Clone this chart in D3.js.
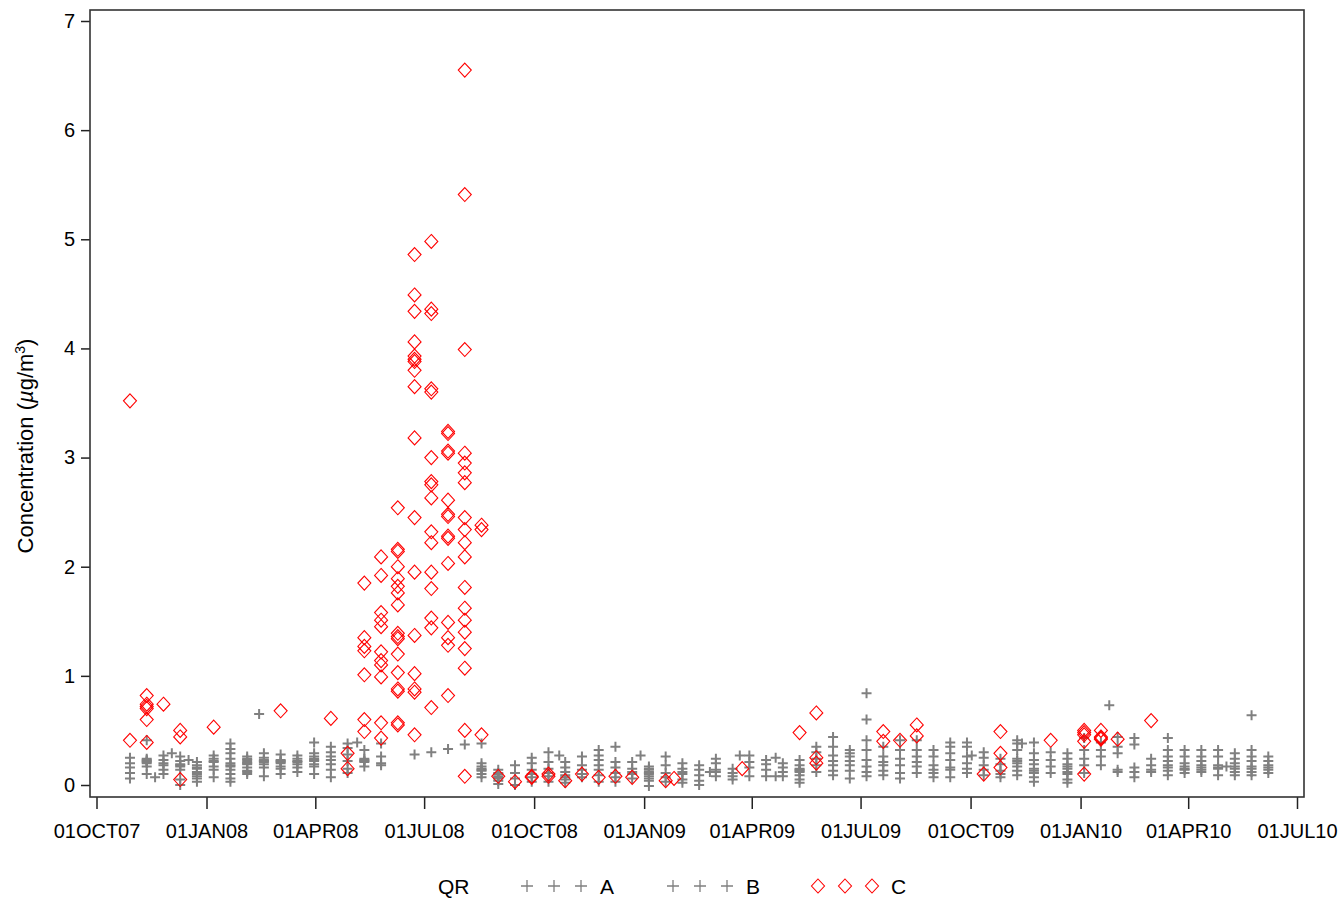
<!DOCTYPE html>
<html>
<head>
<meta charset="utf-8">
<script src="https://cdn.jsdelivr.net/npm/d3@7"></script>
<style>
  body { margin: 0; background: #fff; }
  text { font-family: "Liberation Sans", Arial, sans-serif; fill: #000; }
</style>
</head>
<body>
<script>
// sampling dates (every second week)
var sampleDates = ["2007-10-29","2007-11-12","2007-11-26","2007-12-10","2007-12-24",
  "2008-01-07","2008-01-21","2008-02-04","2008-02-18","2008-03-03","2008-03-17","2008-03-31",
  "2008-04-14","2008-04-28","2008-05-12","2008-05-26","2008-06-09","2008-06-23","2008-07-07",
  "2008-07-21","2008-08-04","2008-08-18","2008-09-01","2008-09-15","2008-09-29","2008-10-13",
  "2008-10-27","2008-11-10","2008-11-24","2008-12-08","2008-12-22","2009-01-05","2009-01-19",
  "2009-02-02","2009-02-16","2009-03-02","2009-03-16","2009-03-30","2009-04-13","2009-04-27",
  "2009-05-11","2009-05-25","2009-06-08","2009-06-22","2009-07-06","2009-07-20","2009-08-03",
  "2009-08-17","2009-08-31","2009-09-14","2009-09-28","2009-10-12","2009-10-26","2009-11-09",
  "2009-11-23","2009-12-07","2009-12-21","2010-01-04","2010-01-18","2010-02-01","2010-02-15",
  "2010-03-01","2010-03-15","2010-03-29","2010-04-12","2010-04-26","2010-05-10","2010-05-24",
  "2010-06-07"]

// QR = A, one list of values per sampling date
var qrA = [
  [0.25,0.20,0.16,0.11,0.06],
  [0.41,0.24,0.23,0.22,0.21,0.20,0.17,0.10],
  [0.27,0.23,0.20,0.18,0.14,0.10],
  [0.26,0.22,0.19,0.18,0.17,0.14,0.05,0.00],
  [0.21,0.18,0.16,0.15,0.12,0.10,0.08,0.06,0.03],
  [0.27,0.24,0.22,0.21,0.17,0.14,0.07],
  [0.38,0.33,0.29,0.24,0.20,0.18,0.17,0.14,0.10,0.06,0.03],
  [0.26,0.24,0.23,0.21,0.20,0.19,0.16,0.13,0.12,0.10],
  [0.29,0.25,0.23,0.22,0.21,0.19,0.16,0.08],
  [0.28,0.23,0.22,0.21,0.20,0.17,0.15,0.10],
  [0.27,0.24,0.22,0.21,0.19,0.16,0.12],
  [0.39,0.29,0.26,0.24,0.23,0.22,0.19,0.17,0.10],
  [0.35,0.30,0.26,0.23,0.19,0.14,0.07],
  [0.38,0.34,0.28,0.22,0.15,0.11],
  [0.32,0.24,0.23,0.22,0.21,0.17],
  [0.38,0.26,0.20,0.18],
  [],
  [0.28],
  [0.30],
  [0.33],
  [0.37],
  [0.38,0.20,0.17,0.15,0.14,0.13,0.10,0.07],
  [0.14,0.11,0.10,0.08,0.07,0.06,0.04,0.01],
  [0.18,0.11,0.06,0.00],
  [0.25,0.20,0.14,0.10,0.07,0.03],
  [0.30,0.21,0.15,0.11,0.08,0.03],
  [0.21,0.16,0.12,0.09,0.07,0.05,0.02],
  [0.26,0.18,0.14,0.10,0.07],
  [0.32,0.27,0.23,0.18,0.14,0.09,0.03],
  [0.35,0.21,0.16,0.11,0.07,0.03],
  [0.21,0.15,0.12,0.10,0.06],
  [0.17,0.15,0.14,0.12,0.11,0.10,0.08,0.06,0.04,-0.01],
  [0.26,0.18,0.11,0.07,0.03],
  [0.20,0.15,0.12,0.10,0.05,0.02],
  [0.18,0.14,0.09,0.04,0.00],
  [0.24,0.20,0.14,0.12,0.08],
  [0.15,0.11,0.08,0.05],
  [0.27,0.21,0.16,0.08],
  [0.23,0.19,0.14,0.08],
  [0.20,0.16,0.12,0.08],
  [0.23,0.18,0.15,0.14,0.13,0.12,0.09,0.05,0.02],
  [0.35,0.30,0.24,0.18,0.12],
  [0.44,0.35,0.27,0.22,0.18,0.13,0.09],
  [0.32,0.29,0.26,0.22,0.18,0.13,0.06],
  [0.84,0.60,0.41,0.32,0.23,0.17,0.12,0.08],
  [0.35,0.26,0.21,0.18,0.13,0.09],
  [0.41,0.32,0.24,0.18,0.11,0.06],
  [0.41,0.32,0.26,0.21,0.17,0.11],
  [0.32,0.26,0.18,0.14,0.11,0.07],
  [0.39,0.35,0.29,0.23,0.16,0.14,0.07],
  [0.39,0.35,0.26,0.20,0.15,0.11],
  [0.30,0.25,0.18,0.14,0.09],
  [0.24,0.19,0.13,0.10,0.07],
  [0.41,0.38,0.32,0.24,0.22,0.20,0.17,0.13,0.09],
  [0.39,0.29,0.23,0.19,0.15,0.13,0.11,0.07,0.03],
  [0.30,0.23,0.17,0.11],
  [0.29,0.24,0.19,0.17,0.15,0.12,0.10,0.05,0.02],
  [0.43,0.32,0.24,0.18,0.11],
  [0.39,0.32,0.26,0.18],
  [0.44,0.35,0.29,0.14,0.12],
  [0.43,0.37,0.16,0.12,0.07],
  [0.24,0.18,0.14,0.12],
  [0.43,0.32,0.26,0.22,0.18,0.16,0.13,0.09],
  [0.32,0.26,0.20,0.17,0.15,0.14,0.11],
  [0.32,0.26,0.22,0.18,0.16,0.14,0.12],
  [0.32,0.26,0.18,0.16,0.15,0.09],
  [0.29,0.24,0.20,0.17,0.15,0.12,0.09],
  [0.64,0.32,0.26,0.22,0.17,0.15,0.12,0.09],
  [0.26,0.22,0.18,0.16,0.14,0.11]
]

// QR = B, off-schedule samples
var bDates  = ["2007-11-19","2007-12-03","2007-12-17","2008-02-14","2008-05-06","2008-10-22",
  "2008-12-29","2009-02-25","2009-03-22","2009-04-21","2009-04-21","2009-10-02","2009-11-13",
  "2010-01-25","2010-05-03"]
var bValues = [0.07,0.29,0.23,0.65,0.39,0.27,0.27,0.12,0.27,0.25,0.08,0.27,0.38,0.73,0.17]

// QR = C
var cDates = ["2007-10-29","2007-11-12","2007-11-26","2007-12-10","2008-01-07","2008-03-03",
  "2008-04-14","2008-04-28","2008-05-12","2008-05-26","2008-06-09","2008-06-23","2008-07-07",
  "2008-07-21","2008-08-04","2008-08-18","2008-09-01","2008-09-15","2008-09-29","2008-10-13",
  "2008-10-27","2008-11-10","2008-11-24","2008-12-08","2008-12-22","2009-01-19","2009-01-26",
  "2009-03-24","2009-05-11","2009-05-25","2009-07-20","2009-08-03","2009-08-17","2009-10-12",
  "2009-10-26","2009-12-07","2010-01-04","2010-01-18","2010-02-01","2010-03-01"]
var cValues = [
  [3.52,0.41],
  [0.82,0.74,0.72,0.70,0.60,0.39],
  [0.74],
  [0.50,0.44,0.05],
  [0.53],
  [0.68],
  [0.61],
  [0.29,0.15],
  [1.85,1.35,1.27,1.23,1.01,0.60,0.49],
  [2.09,1.92,1.58,1.51,1.45,1.22,1.14,1.10,0.99,0.57,0.43],
  [2.54,2.16,2.14,2.00,1.89,1.82,1.76,1.65,1.39,1.36,1.34,1.20,1.03,0.88,0.86,0.57,0.55],
  [4.86,4.49,4.34,4.06,3.93,3.90,3.88,3.80,3.65,3.18,2.45,1.95,1.37,1.02,0.88,0.85,0.46],
  [4.98,4.36,4.32,3.63,3.60,3.00,2.78,2.75,2.63,2.32,2.22,1.95,1.80,1.53,1.44,0.71],
  [3.24,3.22,3.06,3.04,2.61,2.48,2.46,2.28,2.26,2.03,1.49,1.35,1.28,0.82],
  [6.55,5.41,3.99,3.04,2.95,2.86,2.77,2.45,2.34,2.22,2.09,1.81,1.62,1.51,1.40,1.25,1.07,0.50,0.08],
  [2.38,2.34,0.46],
  [0.08],
  [0.03],
  [0.08,0.07],
  [0.10,0.08],
  [0.04],
  [0.10],
  [0.07],
  [0.08],
  [0.07],
  [0.04],
  [0.06],
  [0.15],
  [0.48],
  [0.66,0.25,0.20],
  [0.49,0.40],
  [0.41],
  [0.55,0.45],
  [0.10],
  [0.49,0.29,0.16],
  [0.41],
  [0.50,0.48,0.46,0.40,0.10],
  [0.50,0.44,0.43,0.42],
  [0.42],
  [0.59]
]

var xTicks = ["2007-10-01","2008-01-01","2008-04-01","2008-07-01","2008-10-01","2009-01-01",
  "2009-04-01","2009-07-01","2009-10-01","2010-01-01","2010-04-01","2010-07-01"]
var yTicks = [0,1,2,3,4,5,6,7]

var parse = d3.utcParse("%Y-%m-%d")
var fmt = d3.utcFormat("%d%b%y")

var W = 1341, H = 899
var frame = {left: 90, top: 10, right: 1304, bottom: 797}

var svg = d3.select("body").append("svg")
  .attr("width", W)
  .attr("height", H)

var x = d3.scaleUtc()
  .domain([parse("2007-10-01"), parse("2010-07-01")])
  .range([96.5, 1297])

var y = d3.scaleLinear()
  .domain([0, 7])
  .range([785, 21])

// flatten into points
var ptsA = []
qrA.forEach(function(vals, i){
  vals.forEach(function(v){ ptsA.push({d: parse(sampleDates[i]), v: v}) })
})
var ptsB = bDates.map(function(d, i){ return {d: parse(d), v: bValues[i]} })
var ptsC = []
cValues.forEach(function(vals, i){
  vals.forEach(function(v){ ptsC.push({d: parse(cDates[i]), v: v}) })
})

var plus = "M-5,0H5M0,-5V5"
var diamond = "M0,-7L6.5,0L0,7L-6.5,0Z"

// axes
var xAxis = d3.axisBottom(x)
  .tickValues(xTicks.map(parse))
  .tickFormat(function(d){ return fmt(d).toUpperCase() })
  .tickSize(12)
  .tickPadding(15)

var yAxis = d3.axisLeft(y)
  .tickValues(yTicks)
  .tickFormat(d3.format("d"))
  .tickSize(9)
  .tickPadding(6)

var gx = svg.append("g")
  .attr("transform", "translate(0," + frame.bottom + ")")
  .call(xAxis)
var gy = svg.append("g")
  .attr("transform", "translate(" + frame.left + ",0)")
  .call(yAxis)

svg.selectAll(".domain").remove()
svg.selectAll(".tick line").attr("stroke", "#222").attr("stroke-width", 1.5)
svg.selectAll(".tick text")
  .style("font-size", "20px")
  .style("font-family", "'Liberation Sans', Arial, sans-serif")
  .attr("fill", "#000")

svg.append("rect")
  .attr("x", frame.left)
  .attr("y", frame.top)
  .attr("width", frame.right - frame.left)
  .attr("height", frame.bottom - frame.top)
  .attr("fill", "none")
  .attr("stroke", "#333")
  .attr("stroke-width", 1.6)

// markers
var gPts = svg.append("g")
gPts.selectAll(".a").data(ptsA).enter().append("path")
  .attr("class", "a")
  .attr("d", plus)
  .attr("transform", function(d){ return "translate(" + x(d.d) + "," + y(d.v) + ")" })
  .attr("stroke", "#808080")
  .attr("stroke-width", 2)
gPts.selectAll(".b").data(ptsB).enter().append("path")
  .attr("class", "b")
  .attr("d", plus)
  .attr("transform", function(d){ return "translate(" + x(d.d) + "," + y(d.v) + ")" })
  .attr("stroke", "#808080")
  .attr("stroke-width", 2)
gPts.selectAll(".c").data(ptsC).enter().append("path")
  .attr("class", "c")
  .attr("d", diamond)
  .attr("transform", function(d){ return "translate(" + x(d.d) + "," + y(d.v) + ")" })
  .attr("fill", "none")
  .attr("stroke", "#ff0000")
  .attr("stroke-width", 1.1)

// y title
svg.append("text")
  .attr("transform", "translate(33,446) rotate(-90)")
  .attr("text-anchor", "middle")
  .style("font-size", "22px")
  .text("Concentration (")
  .append("tspan").style("font-style", "italic").text("\u00b5")
  .select(function(){ return this.parentNode })
  .append("tspan").text("g/m")
  .select(function(){ return this.parentNode })
  .append("tspan").attr("dy", -8).style("font-size", "14px").text("3")
  .select(function(){ return this.parentNode })
  .append("tspan").attr("dy", 8).text(")")

// legend
var leg = svg.append("g").attr("transform", "translate(0,886)")
leg.append("text").attr("x", 438).attr("y", 8).style("font-size", "21px").text("QR")
var legItems = [
  {label: "A", sym: plus, x0: 527, color: "#808080", fill: "none"},
  {label: "B", sym: plus, x0: 673, color: "#808080", fill: "none"},
  {label: "C", sym: diamond, x0: 818, color: "#ff0000", fill: "none"}
]
legItems.forEach(function(it){
  for (var j = 0; j < 3; j++){
    leg.append("path")
      .attr("d", it.sym)
      .attr("transform", "translate(" + (it.x0 + j * 27) + ",0)" + (it.sym == plus ? " scale(1.2)" : ""))
      .attr("fill", it.fill)
      .attr("stroke", it.color)
      .attr("stroke-width", 1.1)
  }
  leg.append("text").attr("x", it.x0 + 73).attr("y", 8).style("font-size", "21px").text(it.label)
})
</script>
</body>
</html>
